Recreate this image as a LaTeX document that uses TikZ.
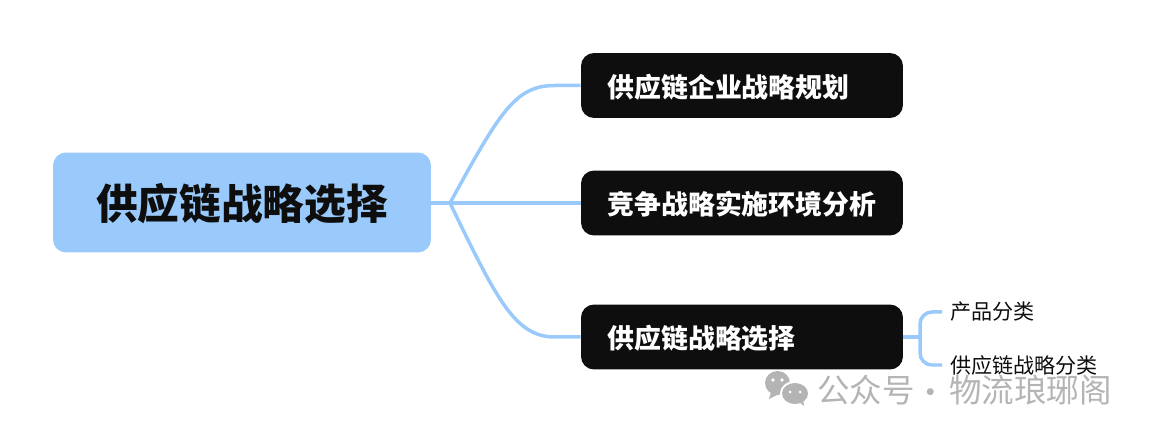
\documentclass[tikz,border=0pt]{standalone}
\usepackage{fontspec}
\setmainfont{Noto Sans CJK SC}
\definecolor{linkblue}{HTML}{99CAFB}
\definecolor{boxblack}{HTML}{0E0E0E}
\definecolor{markgray}{HTML}{B4B4B4}
\tikzset{
  rootbox/.style={fill=linkblue,text=boxblack,rounded corners=.26cm,minimum width=7.56cm,minimum height=2cm,text height=.9cm,text depth=.21cm,font=\fontsize{23.7pt}{28pt}\selectfont\bfseries},
  topicbox/.style={fill=boxblack,text=white,rounded corners=.26cm,text width=5.38cm,inner xsep=.53cm,minimum height=1.3cm,text height=.6cm,text depth=.13cm,align=left,font=\fontsize{15.3pt}{18pt}\selectfont\bfseries},
  leaftext/.style={anchor=west,inner sep=0pt,text=boxblack,font=\fontsize{12pt}{14pt}\selectfont},
  marktext/.style={anchor=west,inner sep=0pt,text=markgray,font=\fontsize{18.5pt}{20pt}\selectfont},
  link/.style={draw=linkblue,line width=.07cm}
}
\begin{document}
\begin{tikzpicture}[x=.02cm,y=-.02cm]
\useasboundingbox (0,0) rectangle (1149,435);
% links first, boxes cover their ends
\coordinate (hub) at (450,203);
\coordinate (fork) at (920,337);
\node[rootbox] at (242,202.5) (root) {供应链战略选择};
\node[topicbox] at (742,85.5) (plan) {供应链企业战略规划};
\node[topicbox] at (742,203) (env) {竞争战略实施环境分析};
\node[topicbox] at (742,337) (choice) {供应链战略选择};
\node[leaftext] at (950,312) (prod) {产品分类};
\node[leaftext] at (950,365) (kind) {供应链战略分类};
\draw[link] (hub) -- (root.east |- hub);
\draw[link] (hub) .. controls (500,112) and (515,85.5) .. (555,85.5) -- (plan.west);
\draw[link] (hub) -- (env.west);
\draw[link] (hub) .. controls (497,300) and (515,337) .. (555,337) -- (choice.west);
\draw[link] (choice.east) -- (fork);
\draw[link,rounded corners=.24cm] (prod.west) ++(-8,0) -| (fork) |- ([xshift=-.16cm]kind.west);
% watermark
\fill[markgray] (777.5,383) ellipse (12.5 and 12);
\fill[markgray] (771,392) -- (769,399) -- (779,394) -- cycle;
\fill[white] (795,393.5) ellipse (15 and 12.5);
\fill[markgray] (795,393.5) ellipse (13 and 10.5);
\fill[markgray] (799,402) -- (804,406) -- (803,399) -- cycle;
\fill[white] (773,380) circle (1.8) (782,380) circle (1.8) (790,392) circle (1.5) (800,392) circle (1.5);
\node[marktext] at (817,390) (mark) {公众号};
\node[marktext] at (914,397) (dot) {·};
\node[marktext] at (949,390) (name) {物流琅琊阁};
\end{tikzpicture}
\end{document}
